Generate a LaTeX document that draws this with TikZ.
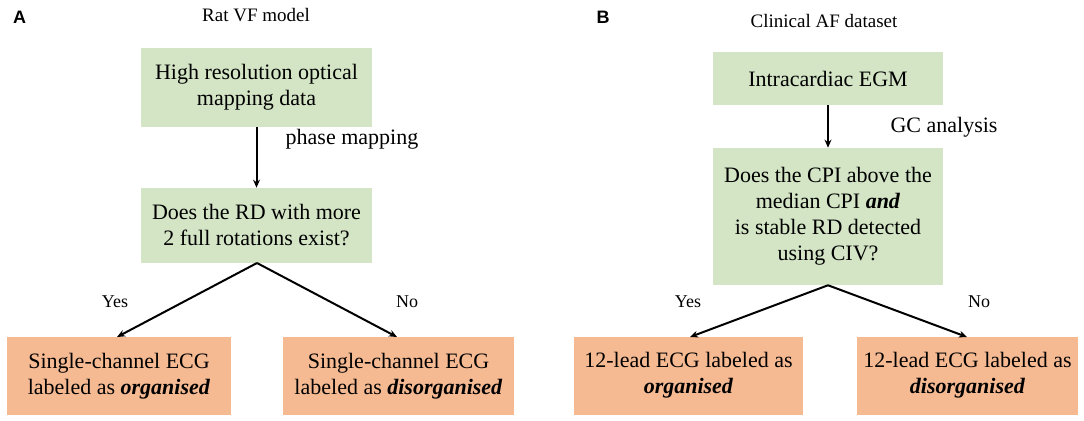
\documentclass[tikz,border=0pt]{standalone}
\usepackage{fontspec}
\setmainfont{Liberation Serif}
\newfontfamily\tnr{Liberation Serif}
\newfontfamily\arl{Liberation Sans}
\usetikzlibrary{arrows.meta}
\definecolor{boxgreen}{RGB}{212,229,198}
\definecolor{boxorange}{RGB}{246,186,147}
\tikzset{
  qbox/.style={fill=boxgreen, draw=none, align=center, inner sep=0pt,
    font=\tnr\fontsize{17.6}{20.8}\selectfont},
  rbox/.style={fill=boxorange, draw=none, align=center, inner sep=0pt,
    minimum height=62.4pt, font=\tnr\fontsize{17.6}{20.8}\selectfont},
  conn/.style={line width=1.6pt, -{Stealth[length=6.5pt,width=5.5pt]}},
  lbl/.style={font=\tnr\fontsize{14.4}{16}\selectfont, inner sep=0pt},
  ttl/.style={font=\tnr\fontsize{15.2}{17}\selectfont, inner sep=0pt},
  panel/.style={font=\arl\bfseries\fontsize{14.4}{16}\selectfont, inner sep=0pt},
  elbl/.style={font=\tnr\fontsize{17.6}{20.8}\selectfont, inner sep=0pt}
}
\begin{document}
\begin{tikzpicture}[x=0.8pt,y=-0.8pt]
\useasboundingbox (0,0) rectangle (1084,420);
\fill[white] (0,0) rectangle (1084,420);
% Panel A
\node[panel] (pA) at (19.5,17) {A};
\node[ttl] (tA) at (256,15) {Rat VF model};
\node[qbox, minimum width=184.8pt, minimum height=63.2pt] (a1) at (256.5,87.5) {High resolution optical\\mapping data};
\node[qbox, minimum width=184.8pt, minimum height=60pt] (a2) at (256.5,225.5) {Does the RD with more\\2 full rotations exist?};
\node[rbox, minimum width=179.2pt] (a3) at (119,376) {Single-channel ECG\\labeled as \textbf{\textit{organised}}};
\node[rbox, minimum width=184.8pt] (a4) at (398.5,376) {Single-channel ECG\\labeled as \textbf{\textit{disorganised}}};
\draw[conn] (a1.south) -- (a2.north);
\node[elbl] (pm) at (352,139) {phase mapping};
\coordinate (a2b) at (257,263);
\draw[conn] (a2b) -- (117,337) coordinate (a3t);
\draw[conn] (a2b) -- (397,337) coordinate (a4t);
\node[lbl] (yA) at (115,302) {Yes};
\node[lbl] (nA) at (407,302) {No};
% Panel B
\node[panel] (pB) at (603,17) {B};
\node[ttl] (tB) at (824,21) {Clinical AF dataset};
\node[qbox, minimum width=184pt, minimum height=42.4pt] (b1) at (828,78.5) {Intracardiac EGM};
\node[qbox, minimum width=184pt, minimum height=109.6pt] (b2) at (828,216.5) {Does the CPI above the\\median CPI \textbf{\textit{and}}\\is stable RD detected\\using CIV?};
\node[rbox, minimum width=183.2pt] (b3) at (688.5,375.5) {12-lead ECG labeled as\\\textbf{\textit{organised}}};
\node[rbox, minimum width=176.8pt] (b4) at (967.5,375.5) {12-lead ECG labeled as\\\textbf{\textit{disorganised}}};
\draw[conn] (b1.south) -- (b2.north);
\node[elbl] (gc) at (944,127) {GC analysis};
\draw[conn] (b2.south) -- (690,337) coordinate (b3t);
\draw[conn] (b2.south) -- (967,337) coordinate (b4t);
\node[lbl] (yB) at (688,302) {Yes};
\node[lbl] (nB) at (979,302) {No};
\end{tikzpicture}
\end{document}
